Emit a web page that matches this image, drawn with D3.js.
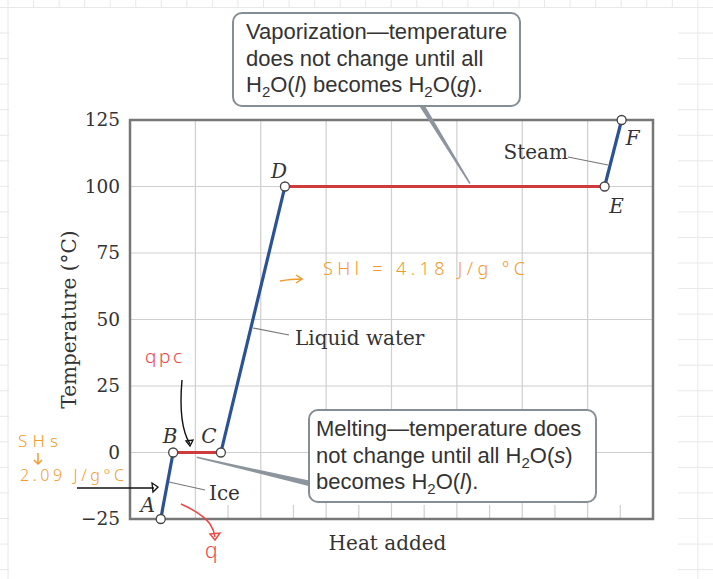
<!DOCTYPE html>
<html><head><meta charset="utf-8">
<script src="https://cdn.jsdelivr.net/npm/d3@7"></script>
<style>html,body{margin:0;padding:0;background:#fff;}svg{display:block;}</style>
</head><body>
<svg id="c" width="713" height="579"></svg>
<script>
// ---- data ----
const pointLabels = ["A", "B", "C", "D", "E", "F"];
const heatAdded = [0.47, 0.66, 1.39, 2.37, 7.26, 7.52];
const temperature = [-25, 0, 0, 100, 100, 125];
const segmentKind = ["heating", "phase", "heating", "phase", "heating"];
const yTicks = [-25, 0, 25, 50, 75, 100, 125];
const xGrid = [0, 1, 2, 3, 4, 5, 6, 7, 8];
const xMinor = [0.5, 1.5, 2.5, 3.5, 4.5, 5.5, 6.5, 7.5];

// ---- layout / style ----
const W = 713, H = 579;
const M = {left: 130, right: 653, top: 120, bottom: 519};
const serif = "'DejaVu Serif', serif";
const sans = "'Liberation Sans', Arial, sans-serif";
const colors = {heating: "#2b5393", phase: "#cf3a3c"};
const svg = d3.select("#c");

// notebook background
const bg = svg.append("g");
const step = 25.55;
for (let x = 8; x < W; x += step) bg.append("line").attr("x1", x).attr("x2", x).attr("y1", 0).attr("y2", H).attr("stroke", "#e8e8e8").attr("stroke-width", 1);
for (let y = 7.5; y < H; y += step) bg.append("line").attr("x1", 0).attr("x2", W).attr("y1", y).attr("y2", y).attr("stroke", "#e8e8e8").attr("stroke-width", 1);
bg.append("rect").attr("x", 9).attr("y", 8).attr("width", 669).attr("height", H - 8).attr("fill", "#fff");

const x = d3.scaleLinear().domain([0, 8]).range([M.left, M.right]);
const y = d3.scaleLinear().domain([-25, 125]).range([M.bottom, M.top]);

// grid
const g = svg.append("g");
g.selectAll(".vg").data(xGrid).join("line")
  .attr("x1", d => x(d)).attr("x2", d => x(d)).attr("y1", M.top).attr("y2", M.bottom)
  .attr("stroke", "#cfcfcf").attr("stroke-width", 1.2);
g.selectAll(".hg").data(yTicks).join("line")
  .attr("x1", M.left).attr("x2", M.right).attr("y1", d => y(d)).attr("y2", d => y(d))
  .attr("stroke", "#cfcfcf").attr("stroke-width", 1.2);
g.selectAll(".mt").data(xMinor).join("line")
  .attr("x1", d => x(d)).attr("x2", d => x(d)).attr("y1", M.bottom - 14).attr("y2", M.bottom)
  .attr("stroke", "#cfcfcf").attr("stroke-width", 1.2);

// y axis labels
const yAxis = d3.axisLeft(y).tickValues(yTicks).tickSize(0).tickPadding(10)
  .tickFormat(d => d < 0 ? "\u2212" + Math.abs(d) : d);
const ya = svg.append("g").attr("transform", `translate(${M.left},0)`).call(yAxis);
ya.select(".domain").remove();
ya.selectAll("text").attr("font-family", serif).attr("font-size", 18.5).attr("fill", "#333");

// frame
svg.append("rect").attr("x", M.left).attr("y", M.top).attr("width", M.right - M.left).attr("height", M.bottom - M.top)
  .attr("fill", "none").attr("stroke", "#777").attr("stroke-width", 2.5);

// axis titles
svg.append("text").attr("transform", `translate(76,${(M.top + M.bottom) / 2 + 0}) rotate(-90)`)
  .attr("text-anchor", "middle").attr("font-family", serif).attr("font-size", 20).attr("fill", "#333")
  .text("Temperature (°C)");
svg.append("text").attr("x", (M.left + M.right) / 2 - 4).attr("y", 550)
  .attr("text-anchor", "middle").attr("font-family", serif).attr("font-size", 20).attr("fill", "#333")
  .text("Heat added");

// callout leaders (tapered wedges)
function wedge(x1, y1, x2, y2, w1, w2) {
  const dx = x2 - x1, dy = y2 - y1, L = Math.hypot(dx, dy), nx = -dy / L, ny = dx / L;
  return `M${x1 + nx * w1 / 2},${y1 + ny * w1 / 2}L${x2 + nx * w2 / 2},${y2 + ny * w2 / 2}L${x2 - nx * w2 / 2},${y2 - ny * w2 / 2}L${x1 - nx * w1 / 2},${y1 - ny * w1 / 2}Z`;
}
svg.append("path").attr("d", wedge(421, 104, x(5.2), y(100) - 3, 5, 1.5)).attr("fill", "#8c959d");
svg.append("path").attr("d", wedge(x(1.02), y(-1.8), 312, 484, 1.5, 5.5)).attr("fill", "#8c959d");

// curve
const pts = heatAdded.map((h, i) => ({h, t: temperature[i], label: pointLabels[i]}));
const segs = segmentKind.map((k, i) => ({k, a: pts[i], b: pts[i + 1]}));
svg.append("g").selectAll("line").data(segs).join("line")
  .attr("x1", d => x(d.a.h)).attr("y1", d => y(d.a.t)).attr("x2", d => x(d.b.h)).attr("y2", d => y(d.b.t))
  .attr("stroke", d => colors[d.k]).attr("stroke-width", 3.2);

// leader lines for phase names
const lead = svg.append("g").attr("stroke", "#777").attr("stroke-width", 1.2);
lead.append("line").attr("x1", 169).attr("y1", 482).attr("x2", 205).attr("y2", 490);
lead.append("line").attr("x1", 253).attr("y1", 328).attr("x2", 289).attr("y2", 335);
lead.append("line").attr("x1", 608).attr("y1", 165).attr("x2", 568).attr("y2", 157);
const nm = svg.append("g").attr("font-family", serif).attr("font-size", 20).attr("fill", "#333");
nm.append("text").attr("x", 209).attr("y", 500).text("Ice");
nm.append("text").attr("x", 295).attr("y", 345).text("Liquid water");
nm.append("text").attr("x", 568).attr("y", 159).attr("text-anchor", "end").text("Steam");

// points
svg.append("g").selectAll("circle").data(pts).join("circle")
  .attr("cx", d => x(d.h)).attr("cy", d => y(d.t)).attr("r", 4.5)
  .attr("fill", "#fff").attr("stroke", "#444").attr("stroke-width", 1.3);

// point letters
const labelOffsets = {A: [-13, -7], B: [-3, -10], C: [-12, -10], D: [-6, -9], E: [12, 26], F: [11, 25]};
svg.append("g").selectAll("text").data(pts).join("text")
  .attr("x", d => x(d.h) + labelOffsets[d.label][0]).attr("y", d => y(d.t) + labelOffsets[d.label][1])
  .attr("text-anchor", "middle").attr("font-family", serif).attr("font-style", "italic")
  .attr("font-size", 20).attr("fill", "#333").text(d => d.label);

// callout boxes
function callout(bx, by, bw, bh, tx, lines) {
  const gg = svg.append("g");
  gg.append("rect").attr("x", bx).attr("y", by).attr("width", bw).attr("height", bh).attr("rx", 9)
    .attr("fill", "#fff").attr("stroke", "#868e95").attr("stroke-width", 2);
  lines.forEach((segsL, i) => {
    const t = gg.append("text").attr("x", tx).attr("y", by + 26 + i * 26.5)
      .attr("font-family", sans).attr("font-size", 22).attr("fill", "#333");
    segsL.forEach(s => {
      const sp = t.append("tspan").text(s.t);
      if (s.sub) sp.attr("font-size", 15).attr("dy", 5);
      if (s.after) sp.attr("dy", -5);
      if (s.it) sp.attr("font-style", "italic");
    });
  });
}
callout(233, 13, 287, 93, 246, [
  [{t: "Vaporization\u2014temperature"}],
  [{t: "does not change until all"}],
  [{t: "H"}, {t: "2", sub: true}, {t: "O(", after: true}, {t: "l", it: true}, {t: ") becomes H"}, {t: "2", sub: true}, {t: "O(", after: true}, {t: "g", it: true}, {t: ")."}]
]);
callout(309, 410, 287, 92, 316, [
  [{t: "Melting\u2014temperature does"}],
  [{t: "not change until all H"}, {t: "2", sub: true}, {t: "O(", after: true}, {t: "s", it: true}, {t: ")"}],
  [{t: "becomes H"}, {t: "2", sub: true}, {t: "O(", after: true}, {t: "l", it: true}, {t: ")."}]
]);

// handwritten annotations
const hand = "'Noto Sans', sans-serif";
const orange = "#f39a2c", red = "#ee4545";
const ann = svg.append("g").attr("font-family", hand).attr("font-weight", 300);
ann.append("text").attr("x", 18).attr("y", 447).attr("fill", orange).attr("font-size", 17).attr("textLength", 40).text("SHs");
ann.append("path").attr("d", "M38,453 L38,464 M34,460 L38,464 L42,460").attr("stroke", orange).attr("fill", "none").attr("stroke-width", 1.5);
ann.append("text").attr("x", 20).attr("y", 481).attr("fill", orange).attr("font-size", 16).attr("textLength", 104).text("2.09 J/g°C");
ann.append("text").attr("x", 323).attr("y", 275).attr("fill", orange).attr("font-size", 18).attr("textLength", 202).text("SHl = 4.18 J/g °C");
ann.append("path").attr("d", "M280,281 Q292,279 301,279 M296,275 L302,279 L296,283").attr("stroke", orange).attr("fill", "none").attr("stroke-width", 1.5);
ann.append("text").attr("x", 145).attr("y", 363).attr("fill", red).attr("font-size", 19).attr("textLength", 37).text("qpc");
ann.append("text").attr("x", 205).attr("y", 558).attr("fill", red).attr("font-size", 21).text("q");
ann.append("path").attr("d", "M181,504 Q203,514 210,524 Q214,530 215,537").attr("stroke", red).attr("fill", "none").attr("stroke-width", 1.5);
ann.append("path").attr("d", "M210,534 L220,533 L215,540 Z").attr("stroke", red).attr("fill", "none").attr("stroke-width", 1.4);
ann.append("path").attr("d", "M182,380 Q178,425 190,444").attr("stroke", "#111").attr("fill", "none").attr("stroke-width", 1.4);
ann.append("path").attr("d", "M186,441 L193,440 L190,446 Z").attr("stroke", "#111").attr("fill", "none").attr("stroke-width", 1.3);
ann.append("path").attr("d", "M77,488 L154,488").attr("stroke", "#111").attr("fill", "none").attr("stroke-width", 1.4);
ann.append("path").attr("d", "M152,483 L158,487 L153,492 Z").attr("stroke", "#111").attr("fill", "none").attr("stroke-width", 1.3);
</script>
</body></html>
